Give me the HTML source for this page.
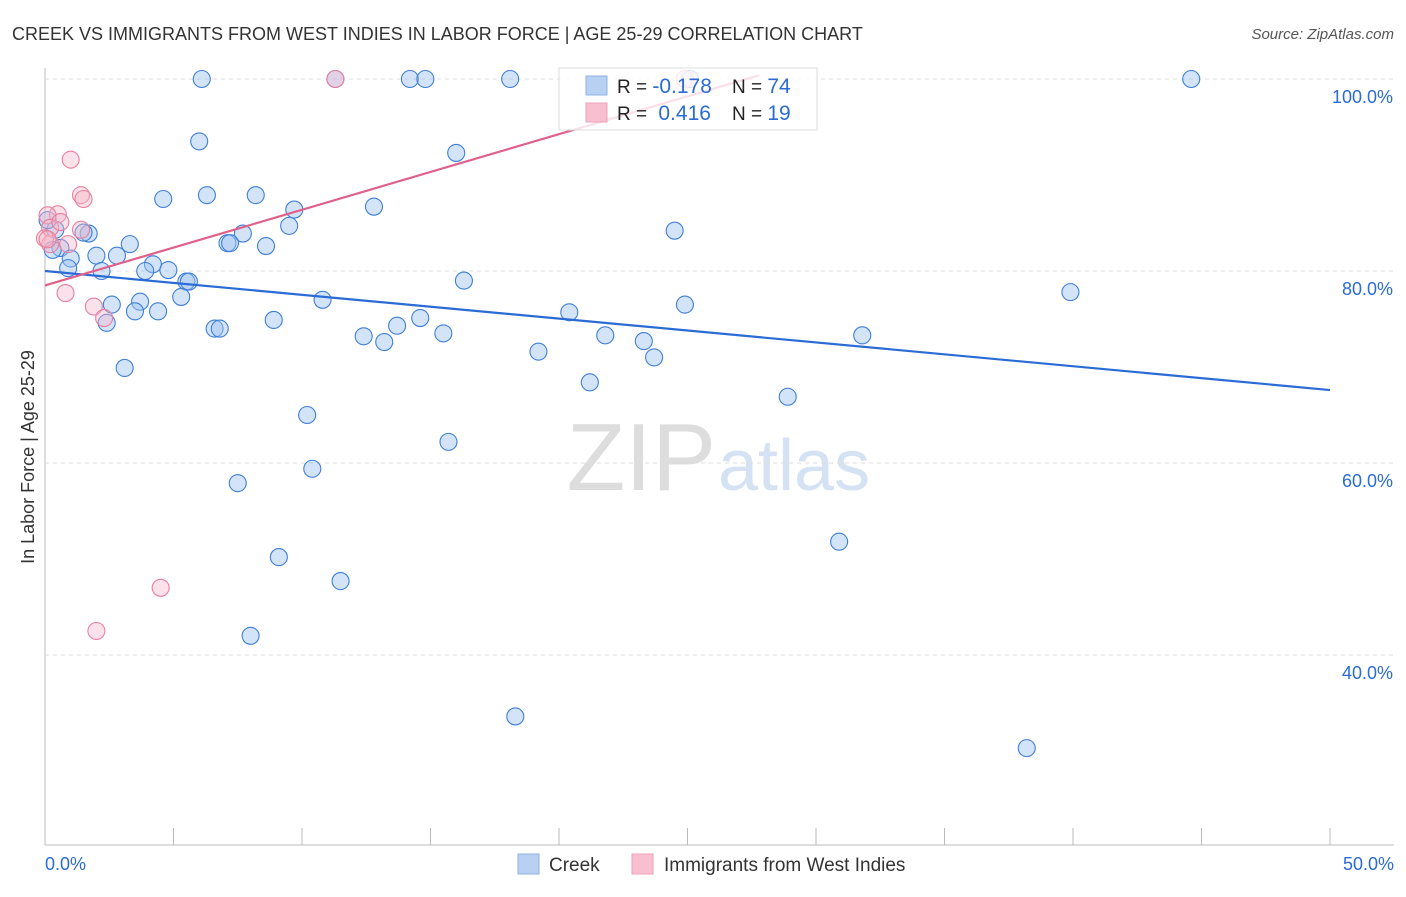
<!DOCTYPE html>
<html><head><meta charset="utf-8"><style>
body{margin:0;background:#fff;font-family:"Liberation Sans",sans-serif}
svg text{font-family:"Liberation Sans",sans-serif}
</style></head><body>
<svg id="c" width="1406" height="892" xmlns="http://www.w3.org/2000/svg">
<text x="12" y="40" font-size="18" fill="#333">CREEK VS IMMIGRANTS FROM WEST INDIES IN LABOR FORCE | AGE 25-29 CORRELATION CHART</text>
<text x="1394" y="39" font-size="15" fill="#555" text-anchor="end" font-style="italic">Source: ZipAtlas.com</text>
<text x="34" y="457" font-size="18" fill="#333" text-anchor="middle" transform="rotate(-90 34 457)">In Labor Force | Age 25-29</text>
<text x="716" y="490" font-size="96" fill="#ddd" text-anchor="end" font-family="Liberation Serif">ZIP</text>
<text x="718" y="490" font-size="72" fill="#d5e2f3">atlas</text>
<g id="grid"></g><g id="pts"></g><g id="lines"></g>
<g>
<rect x="559" y="68" width="258" height="62" fill="#fff" fill-opacity="0.8" stroke="#ddd"/>
<rect x="586" y="76" width="21" height="19" fill="#b8d0f2" stroke="#8fb2e6"/>
<rect x="586" y="103" width="21" height="19" fill="#f7bfd0" stroke="#eea3b9"/>
<text x="617" y="93" font-size="19" fill="#222">R = <tspan fill="#2a6bd6" font-size="21">-0.178</tspan></text>
<text x="732" y="93" font-size="19" fill="#222">N = <tspan fill="#2a6bd6" font-size="21">74</tspan></text>
<text x="617" y="120" font-size="19" fill="#222">R = <tspan fill="#2a6bd6" dx="6" font-size="21">0.416</tspan></text>
<text x="732" y="120" font-size="19" fill="#222">N = <tspan fill="#2a6bd6" font-size="21">19</tspan></text>
</g>
<g>
<rect x="518" y="854" width="21" height="20" fill="#b8d0f2" stroke="#8fb2e6"/>
<text x="549" y="871" font-size="19" fill="#333">Creek</text>
<rect x="632" y="854" width="21" height="20" fill="#f7bfd0" stroke="#eea3b9"/>
<text x="664" y="871" font-size="19" fill="#333">Immigrants from West Indies</text>
</g>
</svg>
<script>
const xTicks=[0,5,10,15,20,25,30,35,40,45,50];
const yTicks=[40,60,80,100];
const yLabels=["40.0%","60.0%","80.0%","100.0%"];
const creekX=[6.1,11.3,14.2,14.8,18.1,25.1,44.6,6.0,16.0,4.6,6.3,8.2,12.8,9.7,9.5,24.5,1.7,1.5,7.7,7.1,7.2,3.3,8.6,0.6,0.3,2.8,2.0,1.0,4.2,0.9,3.9,4.8,2.2,5.5,5.6,16.3,39.9,5.3,10.8,3.7,2.6,24.9,3.5,4.4,20.4,8.9,14.6,2.4,13.7,6.6,6.8,15.5,12.4,21.8,31.8,13.2,23.3,19.2,23.7,3.1,21.2,28.9,10.2,15.7,10.4,7.5,9.1,30.9,11.5,8.0,18.3,38.2,0.4,0.1];
const creekY=[100,100,100,100,100,100,100,93.5,92.3,87.5,87.9,87.9,86.7,86.4,84.7,84.2,83.9,84.0,83.9,82.9,82.9,82.8,82.6,82.4,82.2,81.6,81.6,81.3,80.7,80.3,80.0,80.1,80.0,78.9,78.9,79.0,77.8,77.3,77.0,76.8,76.5,76.5,75.8,75.8,75.7,74.9,75.1,74.6,74.3,74.0,74.0,73.5,73.2,73.3,73.3,72.6,72.7,71.6,71.0,69.9,68.4,66.9,65.0,62.2,59.4,57.9,50.2,51.8,47.7,42.0,33.6,30.3,84.3,85.3];
const wiX=[1.0,1.4,1.5,0.5,0.1,0.2,1.4,0.9,0.2,0.0,0.8,1.9,2.3,4.5,2.0,11.3,24.9,0.6,0.1];
const wiY=[91.6,87.9,87.5,85.9,85.8,84.5,84.3,82.8,82.8,83.4,77.7,76.3,75.1,47.0,42.5,100,100,85.1,83.3];
const creekTrend=[80.0,67.6];
const wiTrend=[78.5,100.4];
const wiTrendEnd=27.8;
const X=v=>45+v/50*1285, Y=v=>79+(100-v)*9.6;
const NS="http://www.w3.org/2000/svg";
function mk(t,a,p){const e=document.createElementNS(NS,t);for(const k in a)e.setAttribute(k,a[k]);p.appendChild(e);return e;}
const g=document.getElementById('grid'),pts=document.getElementById('pts'),ln=document.getElementById('lines');
let ax=mk('line',{x1:45,y1:68,x2:45,y2:845,stroke:'#bbb'},g);


let bx=mk('line',{x1:45,y1:845,x2:1394,y2:845,stroke:'#bbb'},g);


yTicks.forEach((v,i)=>{
 let l=mk('line',{x1:45,y1:Y(v),x2:1394,y2:Y(v),stroke:'#ddd','stroke-dasharray':'4,4'},g);
 
 
 let t=mk('text',{x:1393,y:Y(v)+24,'font-size':18,fill:'#2a6bd6','text-anchor':'end'},g);t.textContent=yLabels[i];
 
 
});
xTicks.forEach(v=>{
 let l=mk('line',{x1:X(v),y1:828,x2:X(v),y2:845,stroke:'#bbb'},g);
 
 
});
let t0=mk('text',{x:45,y:870,'font-size':18,fill:'#2a6bd6'},g);t0.textContent='0.0%';


let t1=mk('text',{x:1394,y:870,'font-size':18,fill:'#2a6bd6','text-anchor':'end'},g);t1.textContent='50.0%';


creekX.forEach((x,i)=>{
 let c=mk('circle',{cx:X(x),cy:Y(creekY[i]),r:8.5,fill:'rgba(160,196,240,0.45)',stroke:'#3f7fd8','stroke-width':1.1},pts);
 
 
});
wiX.forEach((x,i)=>{
 let c=mk('circle',{cx:X(x),cy:Y(wiY[i]),r:8.5,fill:'rgba(245,180,200,0.4)',stroke:'#e8809f','stroke-width':1.1},pts);
 
 
});
let bl=mk('line',{x1:X(0),y1:Y(creekTrend[0]),x2:X(50),y2:Y(creekTrend[1]),stroke:'#2a6bd6','stroke-width':2.2},ln);


let pl=mk('line',{x1:X(0),y1:Y(wiTrend[0]),x2:X(wiTrendEnd),y2:Y(wiTrend[1]),stroke:'#e0608a','stroke-width':2.2},ln);


</script>
</body></html>
